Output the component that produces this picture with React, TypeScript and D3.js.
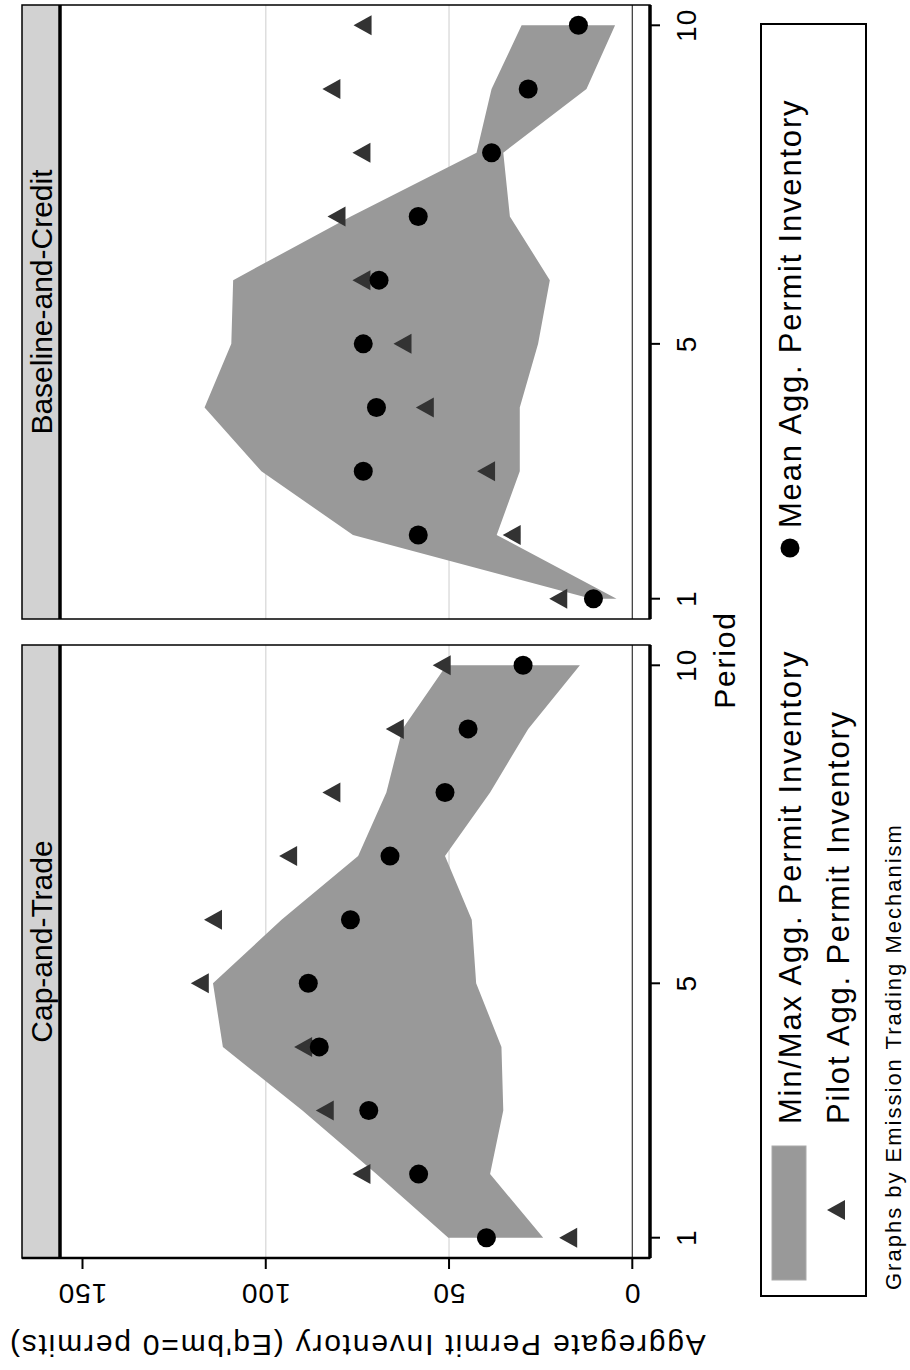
import React from "react";
import * as d3 from "d3";

// data (periods 1..10)
const periods = [1, 2, 3, 4, 5, 6, 7, 8, 9, 10];
const panelNames = ["Cap-and-Trade", "Baseline-and-Credit"];

const capMean = [39.8, 58.3, 71.9, 85.4, 88.4, 76.9, 66.1, 51.1, 44.8, 29.8];
const capPilot = [17.5, 73.9, 83.9, 89.8, 118.0, 114.4, 93.9, 82.1, 64.8, 52.0];
const capMax = [50.2, 69.8, 90.0, 111.7, 114.4, 95.7, 74.8, 67.1, 62.7, 50.7];
const capMin = [24.3, 38.8, 35.2, 35.7, 42.6, 43.8, 51.1, 38.8, 28.4, 14.3];

const bcMean = [10.6, 58.4, 73.4, 69.8, 73.4, 69.1, 58.4, 38.4, 28.4, 14.7];
const bcPilot = [20.2, 32.9, 39.9, 56.6, 62.7, 73.9, 80.7, 73.9, 82.1, 73.6];
const bcMax = [11.2, 76.2, 101.2, 116.7, 109.4, 108.9, 76.8, 42.5, 38.4, 30.2];
const bcMin = [4.3, 37.0, 30.7, 30.7, 25.7, 22.5, 33.4, 35.2, 12.5, 4.7];

const valueTicks = [0, 50, 100, 150];
const gridTicks = [50, 100];
const periodTicks = [1, 5, 10];

const legendLabels = [
  "Min/Max Agg. Permit Inventory",
  "Mean Agg. Permit Inventory",
  "Pilot Agg. Permit Inventory",
];
const yTitle = "Aggregate Permit Inventory (Eq'bm=0 permits)";
const xTitle = "Period";
const note = "Graphs by Emission Trading Mechanism";

type Row = { p: number; mean: number; pilot: number; lo: number; hi: number };

const toRows = (mean: number[], pilot: number[], lo: number[], hi: number[]): Row[] =>
  periods.map((p, i) => ({ p, mean: mean[i], pilot: pilot[i], lo: lo[i], hi: hi[i] }));

const panelData = [toRows(capMean, capPilot, capMin, capMax), toRows(bcMean, bcPilot, bcMin, bcMax)];

const FONT = "'Liberation Sans', Arial, Helvetica, sans-serif";
const TRI = "M0,-9L10,9L-10,9Z";

const App: React.FC = () => {
  // the figure is laid out in Stata's landscape frame, then turned a quarter left
  const W = 1370;
  const H = 910;
  const panelX: [number, number][] = [
    [112, 725],
    [751, 1365],
  ];
  const top = 22;
  const stripBottom = 60;
  const axisY = 650;

  const yScale = d3.scaleLinear().domain([0, 150]).range([632.3, 82.5]);

  return (
    <svg
      width={H}
      height={W}
      style={{ position: "absolute", left: 0, top: 0, background: "#fff" }}
      fontFamily={FONT}
    >
      <rect width={H} height={W} fill="#fff" />
      <g transform={`translate(0,${W}) rotate(-90)`}>
        {panelData.map((rows, pi) => {
          const [x0, x1] = panelX[pi];
          const xScale = d3.scaleLinear().domain([1, 10]).range([x0 + 20.3, x1 - 20.3]);
          const area = d3
            .area<Row>()
            .x((d) => xScale(d.p))
            .y0((d) => yScale(d.lo))
            .y1((d) => yScale(d.hi));
          return (
            <g key={pi}>
              {/* strip */}
              <rect x={x0} y={top} width={x1 - x0} height={stripBottom - top} fill="#d2d2d2" />
              <text
                x={(x0 + x1) / 2 + 10}
                y={52}
                textAnchor="middle"
                fontSize={30}
                fill="#000"
              >
                {panelNames[pi]}
              </text>
              {/* grid */}
              {gridTicks.map((t) => (
                <line
                  key={t}
                  x1={x0}
                  x2={x1}
                  y1={yScale(t)}
                  y2={yScale(t)}
                  stroke="#dedede"
                  strokeWidth={1.5}
                />
              ))}
              <line x1={x0} x2={x1} y1={yScale(0)} y2={yScale(0)} stroke="#333" strokeWidth={1.2} />
              {/* min/max band */}
              <path d={area(rows) ?? ""} fill="#999999" />
              {/* pilot */}
              {rows.map((d) => (
                <path
                  key={"t" + d.p}
                  d={TRI}
                  transform={`translate(${xScale(d.p)},${yScale(d.pilot)})`}
                  fill="#333333"
                />
              ))}
              {/* mean */}
              {rows.map((d) => (
                <circle key={"c" + d.p} cx={xScale(d.p)} cy={yScale(d.mean)} r={9.5} fill="#000" />
              ))}
              {/* frame */}
              <rect
                x={x0}
                y={top}
                width={x1 - x0}
                height={axisY - top}
                fill="none"
                stroke="#000"
                strokeWidth={1.5}
              />
              <line x1={x0} x2={x1} y1={stripBottom} y2={stripBottom} stroke="#000" strokeWidth={3.5} />
              <line x1={x0} x2={x1} y1={axisY} y2={axisY} stroke="#000" strokeWidth={3.5} />
              {/* period axis */}
              {periodTicks.map((t) => (
                <g key={t}>
                  <line
                    x1={xScale(t)}
                    x2={xScale(t)}
                    y1={axisY}
                    y2={axisY + 10}
                    stroke="#000"
                    strokeWidth={2}
                  />
                  <text
                    x={xScale(t)}
                    y={696}
                    textAnchor="middle"
                    fontSize={28}
                    letterSpacing={1}
                  >
                    {t}
                  </text>
                </g>
              ))}
            </g>
          );
        })}

        {/* value axis, left panel only */}
        <line x1={panelX[0][0]} x2={panelX[0][0]} y1={top} y2={axisY} stroke="#000" strokeWidth={2.5} />
        {valueTicks.map((t) => (
          <g key={t}>
            <line
              x1={panelX[0][0]}
              x2={panelX[0][0] - 11}
              y1={yScale(t)}
              y2={yScale(t)}
              stroke="#000"
              strokeWidth={2}
            />
            <text
              x={77}
              y={yScale(t)}
              transform={`rotate(-90,77,${yScale(t)})`}
              textAnchor="middle"
              dominantBaseline="central"
              fontSize={28}
              letterSpacing={1}
            >
              {t}
            </text>
          </g>
        ))}
        <text
          x={25}
          y={357}
          transform="rotate(-90,25,357)"
          textAnchor="middle"
          dominantBaseline="central"
          fontSize={30}
          letterSpacing={1.8}
        >
          {yTitle}
        </text>
        <text x={710} y={735} textAnchor="middle" fontSize={30} letterSpacing={1.8}>
          {xTitle}
        </text>

        {/* legend */}
        <rect x={74} y={761} width={1272} height={105} fill="#fff" stroke="#000" strokeWidth={2} />
        <rect x={90} y={772} width={134} height={34} fill="#999999" stroke="#aaa" strokeWidth={1} />
        <text x={246} y={801} fontSize={31} letterSpacing={1.8}>
          {legendLabels[0]}
        </text>
        <circle cx={822} cy={790} r={9.5} fill="#000" />
        <text x={842} y={801} fontSize={31} letterSpacing={1.8}>
          {legendLabels[1]}
        </text>
        <path d={TRI} transform="translate(160,836)" fill="#333333" />
        <text x={246} y={849} fontSize={31} letterSpacing={1.8}>
          {legendLabels[2]}
        </text>

        <text x={80} y={901} fontSize={22} letterSpacing={2}>
          {note}
        </text>
      </g>
    </svg>
  );
};

export default App;
